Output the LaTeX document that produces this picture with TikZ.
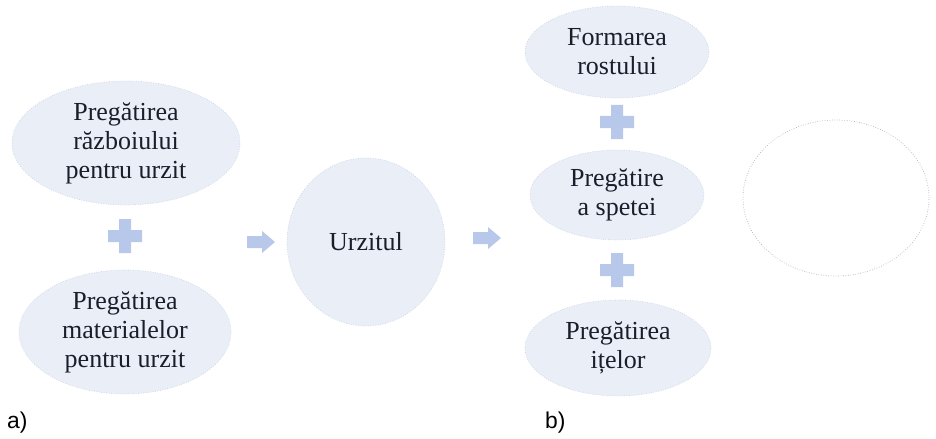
\documentclass[tikz,border=0pt]{standalone}
\usepackage{fontspec}
\setmainfont{Liberation Serif}
\newfontfamily\labelfont{Liberation Sans}
\usetikzlibrary{shapes.geometric}

\definecolor{ovalfill}{HTML}{EAEEF7}
\definecolor{ovalline}{HTML}{C9D3E6}
\definecolor{signfill}{HTML}{B8C8EA}
\definecolor{textcol}{HTML}{1A1E2A}

\tikzset{
  oval/.style={ellipse, fill=ovalfill, draw=ovalline, densely dotted, inner sep=0pt,
    text=textcol, align=center,
    font=\fontsize{14.8pt}{16.5pt}\selectfont},
  plussign/.pic={
    \fill[signfill] (-17,-6) -- (-6,-6) -- (-6,-17) -- (6,-17) -- (6,-6) -- (17,-6)
      -- (17,6) -- (6,6) -- (6,17) -- (-6,17) -- (-6,6) -- (-17,6) -- cycle;
  },
  blockarrow/.pic={
    \fill[signfill] (-14,-6) -- (1,-6) -- (1,-11) -- (14,0) -- (1,11) -- (1,6)
      -- (-14,6) -- cycle;
  },
  partlabel/.style={anchor=west, font=\labelfont\fontsize{13pt}{15pt}\selectfont}
}

\begin{document}
\begin{tikzpicture}[x=0.02cm, y=-0.02cm]
  \useasboundingbox (0,0) rectangle (936,439);

  % a)
  \node[oval, minimum width=4.56cm, minimum height=2.48cm] (razboi) at (126,143)
    {Pregătirea\\războiului\\pentru urzit};
  \node[oval, minimum width=4.24cm, minimum height=2.48cm] (material) at (125,332)
    {Pregătirea\\materialelor\\pentru urzit};
  \node[oval, minimum width=3.16cm, minimum height=3.36cm] (urzit) at (366,242) {Urzitul};
  \pic at (125,236) {plussign};
  \pic at (261,242) {blockarrow};
  \pic at (487,238) {blockarrow};

  % b)
  \node[oval, minimum width=3.68cm, minimum height=1.84cm] (rost) at (617,52)
    {Formarea\\rostului};
  \node[oval, minimum width=3.48cm, minimum height=1.8cm] (spata) at (617,195)
    {Pregătire\\a spetei};
  \node[oval, minimum width=3.72cm, minimum height=1.92cm] (ite) at (618,348)
    {Pregătirea\\ițelor};
  \pic at (617,122) {plussign};
  \pic at (617,270) {plussign};
  \node[ellipse, draw=black!30, densely dotted, minimum width=3.72cm, minimum height=3.12cm]
    (gol) at (836,198) {};

  \node[partlabel] (la) at (1,423) {a)};
  \node[partlabel] (lb) at (539,423) {b)};
\end{tikzpicture}
\end{document}
